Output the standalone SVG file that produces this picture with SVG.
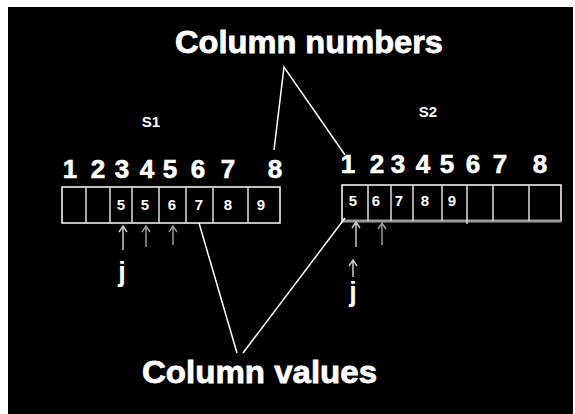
<svg xmlns="http://www.w3.org/2000/svg" width="575" height="414" viewBox="0 0 575 414">
<defs>
<style>
.big{font-family:"Liberation Sans",Arial,sans-serif;font-weight:bold;fill:#fff;font-size:32px;stroke:#fff;stroke-width:0.8}
.num{font-family:"Liberation Sans",Arial,sans-serif;font-weight:bold;fill:#fff;font-size:26px;text-anchor:middle;stroke:#fff;stroke-width:0.6}
.lbl{font-family:"Liberation Sans",Arial,sans-serif;font-weight:bold;fill:#fff;font-size:15px;text-anchor:middle}
.val{font-family:"Liberation Sans",Arial,sans-serif;font-weight:bold;fill:#fff;font-size:15px;text-anchor:middle}
.j{font-family:"Liberation Sans",Arial,sans-serif;font-weight:bold;fill:#fff;font-size:27px;text-anchor:middle}
.box{fill:none;stroke:#fff;stroke-width:1.5}
.div{stroke:#ddd;stroke-width:1.5}
.con{stroke:#fff;stroke-width:1.5;fill:none}
.arr{stroke:#ccc;stroke-width:1.5;fill:none}
.arr2{stroke:#999;stroke-width:1.5;fill:none}
</style>
</defs>
<rect x="0" y="0" width="575" height="414" fill="#fff"/>
<rect x="8" y="7" width="565" height="407" fill="#000"/>

<g id="title-numbers"><text class="big" x="175" y="53" textLength="268" lengthAdjust="spacingAndGlyphs">Column numbers</text></g>
<g id="title-values"><text class="big" x="142" y="383" textLength="235" lengthAdjust="spacingAndGlyphs">Column values</text></g>

<g id="s1">
<text class="lbl" x="151" y="127">S1</text>
<g>
<text class="num" x="70" y="178">1</text>
<text class="num" x="98" y="178">2</text>
<text class="num" x="122" y="178">3</text>
<text class="num" x="147" y="178">4</text>
<text class="num" x="170" y="178">5</text>
<text class="num" x="198" y="178">6</text>
<text class="num" x="228" y="178">7</text>
<text class="num" x="275" y="178">8</text>
</g>
<rect class="box" x="62" y="187" width="218" height="36"/>
<path class="div" d="M86 187V223M110 187V223M132 187V223M159 187V223M186 187V223M213 187V223M248 187V223"/>
<text class="val" x="121" y="210">5</text>
<text class="val" x="145" y="210">5</text>
<text class="val" x="172" y="210">6</text>
<text class="val" x="199" y="210">7</text>
<text class="val" x="228" y="210">8</text>
<text class="val" x="261" y="210">9</text>
<path class="arr" d="M123 250V226M119 232L123 226L127 232"/>
<path class="arr2" d="M146 247V226M142 232L146 226L150 232"/>
<path class="arr2" d="M173 245V226M169 232L173 226L177 232"/>
<text class="j" x="122" y="281">j</text>
</g>

<g id="s2">
<text class="lbl" x="428" y="117">S2</text>
<g>
<text class="num" x="348" y="173">1</text>
<text class="num" x="377" y="173">2</text>
<text class="num" x="398" y="173">3</text>
<text class="num" x="423" y="173">4</text>
<text class="num" x="447" y="173">5</text>
<text class="num" x="473" y="173">6</text>
<text class="num" x="500" y="173">7</text>
<text class="num" x="540" y="173">8</text>
</g>
<rect class="box" x="342" y="185" width="219" height="36"/>
<line x1="342" y1="221" x2="561" y2="221" stroke="#999" stroke-width="3"/>
<path class="div" d="M368 185V221M391 185V221M413 185V221M442 185V221M467 185V224M493 185V221M529 185V221"/>
<text class="val" x="353" y="206">5</text>
<text class="val" x="376" y="206">6</text>
<text class="val" x="399" y="206">7</text>
<text class="val" x="425" y="206">8</text>
<text class="val" x="452" y="206">9</text>
<path class="arr" d="M356 247V222M352 228L356 222L360 228"/>
<path class="arr2" d="M382 245V223M378 229L382 223L386 229"/>
<path class="arr" d="M353 277V260M349 266L353 260L357 266"/>
<text class="j" x="353" y="301">j</text>
</g>

<g id="connectors">
<path class="con" d="M274 150L284 67L345 155"/>
<path class="con" d="M199 223L237 353"/>
<path class="con" d="M243 353L345 218"/>
</g>
</svg>
